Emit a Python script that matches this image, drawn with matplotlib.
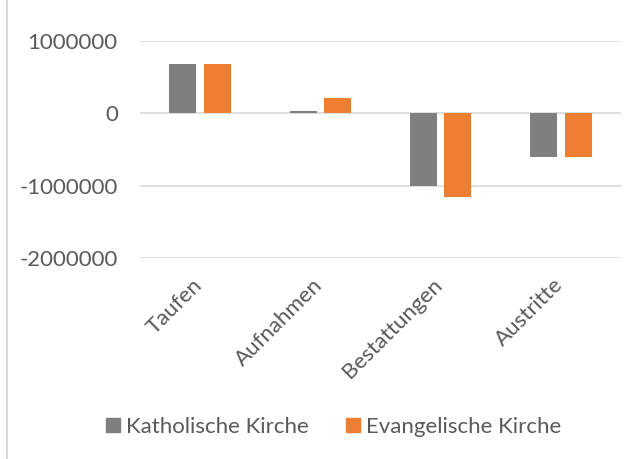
import numpy as np
import matplotlib
matplotlib.use('Agg')
import matplotlib.pyplot as plt
from matplotlib.lines import Line2D
from matplotlib.patches import Patch

categories = ['Taufen', 'Aufnahmen', 'Bestattungen', 'Austritte']
katholisch = [676000, 38000, -1004000, -610000]
evangelisch = [686000, 214000, -1150000, -605000]
series_names = ['Katholische Kirche', 'Evangelische Kirche']
yticks = [-2000000, -1000000, 0, 1000000]

GRAY = '#7f7f7f'
ORANGE = '#ed7d31'
TEXT = '#595959'
GRID = '#d9d9d9'
FONT = 'Lato'
FS = 16

fig = plt.figure(figsize=(6.42, 4.59), dpi=100)
ax = fig.add_axes([140 / 642, 1 - 258 / 459, 481 / 642, 217 / 459])

x = np.arange(len(categories))
w = 0.225
ax.bar(x - 0.143, katholisch, w, color=GRAY, zorder=3)
ax.bar(x + 0.143, evangelisch, w, color=ORANGE, zorder=3)

ax.set_xlim(-0.5, len(categories) - 0.5)
ax.set_ylim(-2000000, 1000000)
ax.set_yticks(yticks)
ax.set_yticklabels([str(v) for v in yticks], fontsize=FS, color=TEXT, family=FONT)
ax.tick_params(axis='y', length=0, pad=16)
ax.set_xticks([])
ax.grid(axis='y', color=GRID, linewidth=1.2, zorder=0)
for s in ax.spines.values():
    s.set_visible(False)

# category labels, rotated like the Excel original, ending at the category
for xi, name in zip(x, categories):
    ax.text(xi - 0.01, -0.11, name, transform=ax.get_xaxis_transform(),
            rotation=45, ha='right', va='center', rotation_mode='anchor',
            fontsize=FS, color=TEXT, family=FONT)

handles = [Patch(color=GRAY), Patch(color=ORANGE)]
fig.legend(handles, series_names, loc='center', bbox_to_anchor=(334 / 642, 1 - 427 / 459),
           ncol=2, frameon=False, handlelength=0.63, handleheight=0.63, handletextpad=0.27,
           columnspacing=1.67, borderpad=0, prop={'family': FONT, 'size': FS}, labelcolor=TEXT)

fig.add_artist(Line2D([7 / 642, 7 / 642], [0, 1], color=GRID, linewidth=1.5))

fig.savefig('out.png', dpi=100)
